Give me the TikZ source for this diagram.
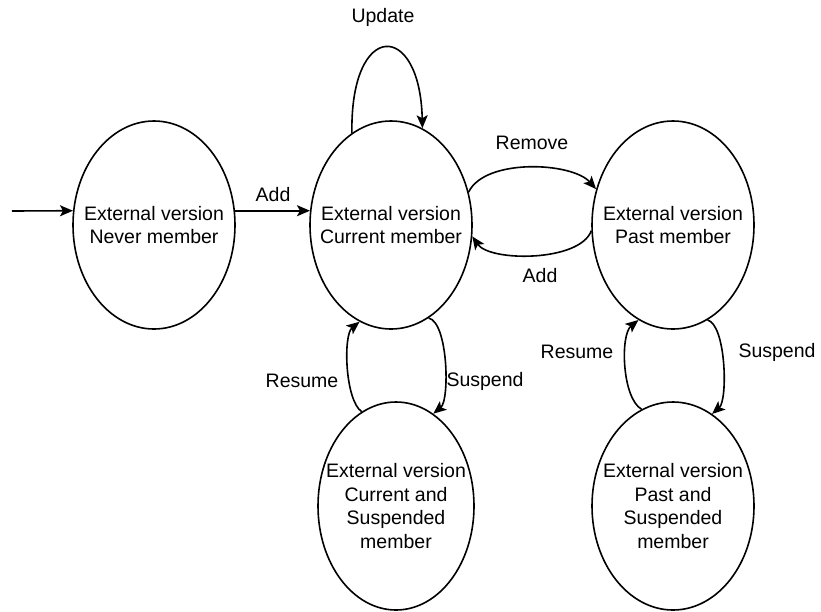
\documentclass[tikz,border=0pt]{standalone}
\usepackage{fontspec}
\setmainfont{Liberation Sans}
\usetikzlibrary{shapes.geometric,arrows.meta}
\begin{document}
\begin{tikzpicture}[x=1pt,y=-1pt,
  state/.style={draw,ellipse,line width=1.6pt,minimum width=162pt,minimum height=208pt,inner sep=0pt},
  lbl/.style={font=\fontsize{19.5}{23.5}\selectfont,align=center,inner sep=0pt},
  conn/.style={line width=1.6pt,-{Stealth[length=13pt,width=11pt,inset=3pt]}}]
\useasboundingbox (0,0) rectangle (821,611);
% states
\node[state,label={[lbl]center:{External version\\Never member}}] (never) at (154,225) {};
\node[state,label={[lbl]center:{External version\\Current member}}] (cur) at (391,225) {};
\node[state,label={[lbl]center:{External version\\Past member}}] (past) at (673,225) {};
\node[state,minimum width=156pt,label={[lbl]center:{External version\\Current and\\Suspended\\member}}] (csus) at (396,506) {};
\node[state,minimum width=162pt,label={[lbl]center:{External version\\Past and\\Suspended\\member}}] (psus) at (673,506) {};
% edge labels
\node[lbl] (lupd) at (383,17) {Update};
\node[lbl] (ladd1) at (273,195) {Add};
\node[lbl] (lrem) at (532,143) {Remove};
\node[lbl] (ladd2) at (540,276) {Add};
\node[lbl] (lres1) at (302,381) {Resume};
\node[lbl] (lsus1) at (485,381) {Suspend};
\node[lbl] (lres2) at (577,352) {Resume};
\node[lbl] (lsus2) at (777,352) {Suspend};
% connectors
\coordinate (init) at (12,211);
\draw[conn] (init) -- (never.170);
\draw[conn] (never.10) -- (cur.170);
\draw[conn] (cur.113) .. controls (350,20) and (420,20) .. (cur.72);
\draw[conn] (cur.23) .. controls (485,158) and (572,162) .. (past.155);
\draw[conn] (past.184) .. controls (580,262) and (490,262) .. (cur.-8);
\draw[conn] (cur.-68) .. controls (448,322) and (450,400) .. (csus.68);
\draw[conn] (csus.110) .. controls (345,400) and (343,335) .. (cur.-108);
\draw[conn] (past.-70) .. controls (726,325) and (728,400) .. (psus.67);
\draw[conn] (psus.108) .. controls (622,398) and (620,335) .. (past.-110);
\end{tikzpicture}
\end{document}
